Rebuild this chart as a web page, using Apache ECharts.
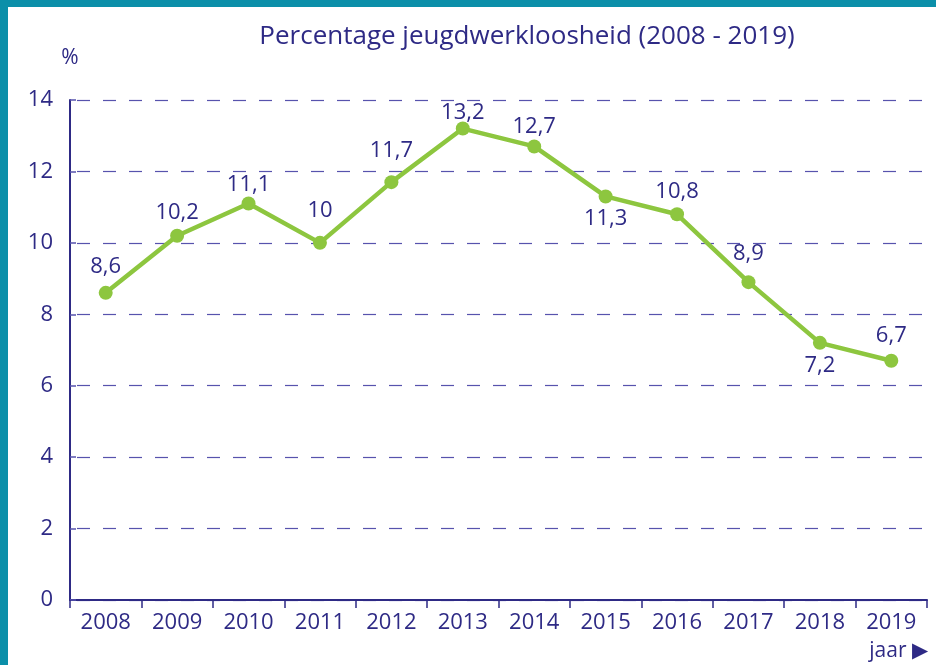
<!DOCTYPE html>
<html>
<head>
<meta charset="UTF-8">
<title>Percentage jeugdwerkloosheid</title>
<script src="https://cdn.jsdelivr.net/npm/echarts@6/dist/echarts.min.js"></script>
<style>
  html, body { margin: 0; padding: 0; background: #fff; }
</style>
</head>
<body>
<div id="main" style="width: 936px;height:665px;"></div>
<script type="text/javascript">
// data
var jaren = ['2008','2009','2010','2011','2012','2013','2014','2015','2016','2017','2018','2019'];
var percentages = [8.6, 10.2, 11.1, 10, 11.7, 13.2, 12.7, 11.3, 10.8, 8.9, 7.2, 6.7];
var yTicks = [0, 2, 4, 6, 8, 10, 12, 14];

// label placement (boven/onder) and distance per point
var labelSide = ['top','top','top','top','top','top','top','bottom','top','top','bottom','top'];
var labelDist = [8, 5, 1, 14, 13, -2, 2, 4, 5, 10, 5, 7];

var navy = '#2e2a85';
var green = '#8dc63f';
var teal = '#0b8fa9';
var font = 'Open Sans';

var myChart = echarts.init(document.getElementById('main'));

var seriesData = percentages.map(function (v, i) {
  return {
    value: v,
    label: { position: labelSide[i], distance: labelDist[i] }
  };
});

var option = {
  animation: false,
  textStyle: { fontFamily: font },
  title: {
    text: 'Percentage jeugdwerkloosheid (2008 - 2019)',
    left: 522,
    top: 19,
    textAlign: 'center',
    textStyle: { color: navy, fontSize: 26, fontWeight: 'normal', fontFamily: font }
  },
  graphic: [
    { type: 'rect', left: 0, top: 0, shape: { width: 8, height: 665 }, style: { fill: teal } },
    { type: 'rect', left: 0, top: 0, shape: { width: 936, height: 7 }, style: { fill: teal } },
    {
      type: 'text', right: 8, top: 641,
      style: { text: 'jaar \u25B6', fill: navy, font: '21px ' + font }
    }
  ],
  grid: { left: 70, right: 9, top: 100, bottom: 65, containLabel: false },
  xAxis: {
    type: 'category',
    data: jaren,
    boundaryGap: true,
    axisLine: { lineStyle: { color: navy, width: 2 } },
    axisTick: { show: true, length: 8, lineStyle: { color: navy, width: 1.5 } },
    axisLabel: { color: navy, fontSize: 22, margin: 12, fontFamily: font }
  },
  yAxis: {
    type: 'value',
    min: yTicks[0],
    max: yTicks[yTicks.length - 1],
    interval: 2,
    name: '%',
    nameLocation: 'end',
    nameGap: 31,
    nameTextStyle: { color: navy, fontSize: 21, align: 'center', fontFamily: font },
    axisLine: { show: true, lineStyle: { color: navy, width: 2 } },
    axisTick: { show: true, inside: true, length: 6, lineStyle: { color: '#5753ad', width: 1.5 } },
    axisLabel: { color: navy, fontSize: 22, margin: 17, fontFamily: font },
    splitLine: {
      show: true,
      lineStyle: { color: '#5753ad', width: 1.2, type: [13, 13], dashOffset: -7 }
    }
  },
  series: [
    {
      type: 'line',
      data: seriesData,
      symbol: 'circle',
      symbolSize: 14,
      lineStyle: { color: green, width: 4.5 },
      itemStyle: { color: green },
      label: {
        show: true,
        color: navy,
        fontSize: 22,
        fontFamily: font,
        formatter: function (p) { return String(p.value).replace('.', ','); }
      }
    }
  ]
};

myChart.setOption(option);
</script>
</body>
</html>
